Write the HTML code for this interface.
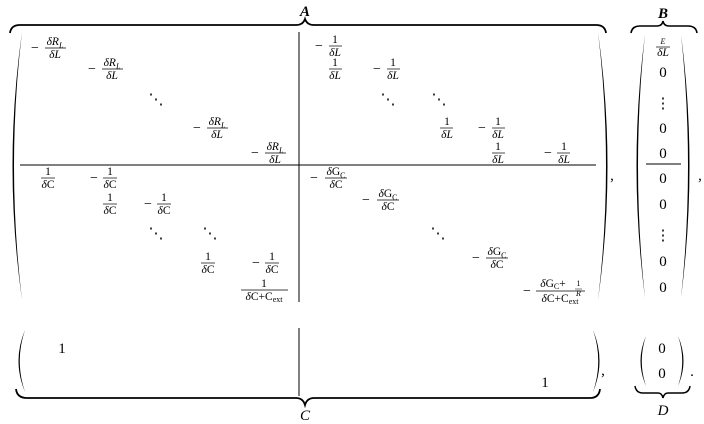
<!DOCTYPE html>
<html><head><meta charset="utf-8"><style>
html,body{margin:0;padding:0;background:#fff;width:704px;height:424px;overflow:hidden}
svg{display:block}
text{font-family:"Liberation Serif",serif;fill:#000}
.n{font-size:11.5px;text-anchor:middle}
.m{font-size:14px;text-anchor:middle}
.b{font-size:15px;text-anchor:middle}
.i{font-style:italic}
.s{font-size:8px}
</style></head><body>
<svg width="704" height="424" viewBox="0 0 704 424" xmlns="http://www.w3.org/2000/svg">
<g stroke="#000" fill="none">
<path d="M10,33 Q11,25 20,25 L296,25 Q303,25 305,19 Q307,25 314,25 L596,25 Q605,25 606,33" stroke-width="1.8"/>
<path d="M631,33 Q632,26 640,26 L657,26 Q662,26 663,21 Q664,26 669,26 L688,26 Q696,26 697,33" stroke-width="1.6"/>
<line x1="299" y1="32" x2="299" y2="302" stroke-width="1"/>
<line x1="20" y1="165" x2="596" y2="165" stroke-width="1"/>
<line x1="646" y1="164" x2="681" y2="164" stroke-width="1"/>
<line x1="299" y1="328" x2="299" y2="396" stroke-width="1"/>
<path d="M16,389 Q17,398 27,398 L296,398 Q303,398 305,405 Q307,398 314,398 L590,398 Q599,398 600,389" stroke-width="1.8"/>
<path d="M635,386 Q636,393 643,393 L658,393 Q662,393 663,398 Q664,393 668,393 L682,393 Q689,393 690,386" stroke-width="1.5"/>
</g>
<g fill="#000">
<path d="M22,32 Q3,166 22,300 Q6,166 22,32Z"/>
<path d="M598,32 Q617,166 598,300 Q614,166 598,32Z"/>
<path d="M645,34 Q628,166 645,298 Q631,166 645,34Z"/>
<path d="M681,34 Q698,166 681,298 Q695,166 681,34Z"/>
<path d="M25,330 Q12,361 25,392 Q14.5,361 25,330Z"/>
<path d="M593,330 Q606,361 593,392 Q603.5,361 593,330Z"/>
<path d="M646,336 Q635,361 646,386 Q637.5,361 646,336Z"/>
<path d="M678,336 Q689,361 678,386 Q686.5,361 678,336Z"/>
</g>
<text x="305" y="16" class="b i" font-weight="bold" font-size="16">A</text>
<text x="663" y="18" class="b i" font-weight="bold" font-size="16">B</text>
<text x="305" y="420" class="b i" font-size="16">C</text>
<text x="663" y="415" class="b i" font-size="16">D</text>
<text x="612" y="180" class="b">,</text>
<text x="700" y="180" class="b">,</text>
<text x="603" y="375" class="b">,</text>
<text x="692" y="376" class="b">.</text>

<g stroke="#000" stroke-width="0.7">
<line x1="45" y1="48" x2="66" y2="48"/>
<line x1="102" y1="69" x2="123" y2="69"/>
<line x1="207" y1="128" x2="228" y2="128"/>
<line x1="265" y1="153" x2="286" y2="153"/>
<line x1="41" y1="178" x2="55" y2="178"/>
<line x1="103" y1="178" x2="117" y2="178"/>
<line x1="103" y1="204" x2="117" y2="204"/>
<line x1="157" y1="204" x2="171" y2="204"/>
<line x1="201" y1="263" x2="215" y2="263"/>
<line x1="265" y1="263" x2="279" y2="263"/>
<line x1="241" y1="290" x2="288" y2="290"/>
<line x1="329" y1="46" x2="342" y2="46"/>
<line x1="329" y1="69" x2="342" y2="69"/>
<line x1="387" y1="69" x2="400" y2="69"/>
<line x1="440" y1="128" x2="453" y2="128"/>
<line x1="492" y1="128" x2="505" y2="128"/>
<line x1="492" y1="153" x2="505" y2="153"/>
<line x1="557" y1="153" x2="570" y2="153"/>
<line x1="325" y1="178" x2="347" y2="178"/>
<line x1="377" y1="200" x2="399" y2="200"/>
<line x1="486" y1="258" x2="508" y2="258"/>
<line x1="536" y1="291" x2="585" y2="291"/>
<line x1="656" y1="47" x2="670" y2="47"/>
<line x1="575" y1="289" x2="582" y2="289" stroke-width="0.5"/>
</g>

<g>
<text x="35" y="52" class="m">−</text><text x="55" y="45" class="n"><tspan class="i">δR</tspan><tspan class="s i" dy="3">L</tspan></text><text x="55" y="58" class="n i">δL</text>
<text x="92" y="73" class="m">−</text><text x="112" y="66" class="n"><tspan class="i">δR</tspan><tspan class="s i" dy="3">L</tspan></text><text x="112" y="79" class="n i">δL</text>
<text x="156" y="104" class="b">⋱</text>
<text x="197" y="132" class="m">−</text><text x="217" y="125" class="n"><tspan class="i">δR</tspan><tspan class="s i" dy="3">L</tspan></text><text x="217" y="138" class="n i">δL</text>
<text x="255" y="157" class="m">−</text><text x="275" y="150" class="n"><tspan class="i">δR</tspan><tspan class="s i" dy="3">L</tspan></text><text x="275" y="163" class="n i">δL</text>
<text x="48" y="175" class="n">1</text><text x="48" y="188" class="n"><tspan class="i">δ</tspan>C</text>
<text x="94" y="182" class="m">−</text><text x="110" y="175" class="n">1</text><text x="110" y="188" class="n"><tspan class="i">δ</tspan>C</text>
<text x="110" y="201" class="n">1</text><text x="110" y="214" class="n"><tspan class="i">δ</tspan>C</text>
<text x="148" y="208" class="m">−</text><text x="164" y="201" class="n">1</text><text x="164" y="214" class="n"><tspan class="i">δ</tspan>C</text>
<text x="156" y="238" class="b">⋱</text><text x="210" y="238" class="b">⋱</text>
<text x="208" y="260" class="n">1</text><text x="208" y="273" class="n"><tspan class="i">δ</tspan>C</text>
<text x="256" y="267" class="m">−</text><text x="272" y="260" class="n">1</text><text x="272" y="273" class="n"><tspan class="i">δ</tspan>C</text>
<text x="264" y="287" class="n">1</text><text x="264" y="300" class="n"><tspan class="i">δ</tspan>C+C<tspan class="s" dy="2">ext</tspan></text>
<text x="319" y="50" class="m">−</text><text x="335" y="43" class="n">1</text><text x="335" y="56" class="n i">δL</text>
<text x="335" y="66" class="n">1</text><text x="335" y="79" class="n i">δL</text>
<text x="377" y="73" class="m">−</text><text x="393" y="66" class="n">1</text><text x="393" y="79" class="n i">δL</text>
<text x="388" y="104" class="b">⋱</text><text x="439" y="104" class="b">⋱</text>
<text x="447" y="125" class="n">1</text><text x="447" y="138" class="n i">δL</text>
<text x="482" y="132" class="m">−</text><text x="498" y="125" class="n">1</text><text x="498" y="138" class="n i">δL</text>
<text x="498" y="150" class="n">1</text><text x="498" y="163" class="n i">δL</text>
<text x="548" y="157" class="m">−</text><text x="564" y="150" class="n">1</text><text x="564" y="163" class="n i">δL</text>
<text x="314" y="182" class="m">−</text><text x="336" y="175" class="n"><tspan class="i">δ</tspan>G<tspan class="s" dy="3">C</tspan></text><text x="336" y="188" class="n"><tspan class="i">δ</tspan>C</text>
<text x="366" y="204" class="m">−</text><text x="388" y="197" class="n"><tspan class="i">δ</tspan>G<tspan class="s" dy="3">C</tspan></text><text x="388" y="210" class="n"><tspan class="i">δ</tspan>C</text>
<text x="438" y="238" class="b">⋱</text>
<text x="476" y="262" class="m">−</text><text x="497" y="255" class="n"><tspan class="i">δ</tspan>G<tspan class="s" dy="3">C</tspan></text><text x="497" y="268" class="n"><tspan class="i">δ</tspan>C</text>
<text x="527" y="295" class="m">−</text><text x="553" y="287" class="n"><tspan class="i">δ</tspan>G<tspan class="s" dy="2">C</tspan><tspan dy="-2">+</tspan></text>
<text x="578.5" y="286" class="s" text-anchor="middle">1</text><text x="578.5" y="296" class="s i" text-anchor="middle">R</text>
<text x="560" y="302" class="n"><tspan class="i">δ</tspan>C+C<tspan class="s" dy="2">ext</tspan></text>
<text x="663" y="44" class="s i" text-anchor="middle" font-size="9">E</text><text x="663" y="56" class="n i">δL</text>
<text x="663" y="77" class="b">0</text>
<text x="663" y="108" class="b">⋮</text>
<text x="663" y="133" class="b">0</text>
<text x="663" y="158" class="b">0</text>
<text x="663" y="183" class="b">0</text>
<text x="663" y="209" class="b">0</text>
<text x="663" y="240" class="b">⋮</text>
<text x="663" y="266" class="b">0</text>
<text x="663" y="292" class="b">0</text>
<text x="62" y="353" class="b">1</text>
<text x="545" y="387" class="b">1</text>
<text x="662" y="353" class="b">0</text>
<text x="662" y="378" class="b">0</text>
</g>
</svg>
</body></html>
